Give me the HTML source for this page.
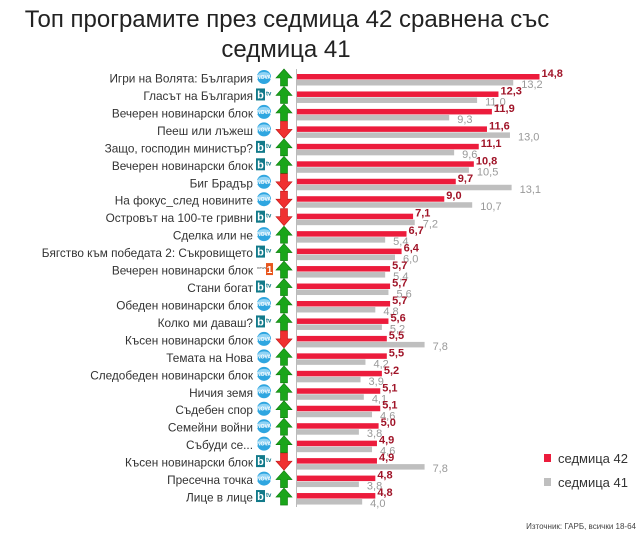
<!DOCTYPE html>
<html><head><meta charset="utf-8">
<style>
body{margin:0;background:#fff;width:638px;height:539px;overflow:hidden;font-family:"Liberation Sans",sans-serif}
svg text{font-family:"Liberation Sans",sans-serif}
</style></head>
<body>
<svg id="chart" width="638" height="539" viewBox="0 0 638 539" xmlns="http://www.w3.org/2000/svg">
<text x="287" y="27" font-size="24" fill="#222" text-anchor="middle">Топ програмите през седмица 42 сравнена със</text>
<text x="286" y="57" font-size="24" fill="#222" text-anchor="middle">седмица 41</text>
<line x1="296.5" y1="69" x2="296.5" y2="507" stroke="#bbb" stroke-width="1"/>
<g id="rows"></g>
<g>
<rect x="544" y="454" width="7" height="8" fill="#ec1c3c"/>
<text x="558" y="463" font-size="13" fill="#333">седмица 42</text>
<rect x="544" y="478" width="7" height="8" fill="#bfbfbf"/>
<text x="558" y="487" font-size="13" fill="#333">седмица 41</text>
</g>
<text x="636" y="529" font-size="8" fill="#444" text-anchor="end">Източник: ГАРБ, всички 18-64</text>
</svg>
<script>
const programs=["Игри на Волята: България","Гласът на България","Вечерен новинарски блок","Пееш или лъжеш","Защо, господин министър?","Вечерен новинарски блок","Биг Брадър","На фокус_след новините","Островът на 100-те гривни","Сделка или не","Бягство към победата 2: Съкровището","Вечерен новинарски блок","Стани богат","Обеден новинарски блок","Колко ми даваш?","Късен новинарски блок","Темата на Нова","Следобеден новинарски блок","Ничия земя","Съдебен спор","Семейни войни","Събуди се...","Късен новинарски блок","Пресечна точка","Лице в лице"];
const channels=["nova","btv","nova","nova","btv","btv","nova","nova","btv","nova","btv","news","btv","nova","btv","nova","nova","nova","nova","nova","nova","nova","btv","nova","btv"];
const week42=[14.8,12.3,11.9,11.6,11.1,10.8,9.7,9.0,7.1,6.7,6.4,5.7,5.7,5.7,5.6,5.5,5.5,5.2,5.1,5.1,5.0,4.9,4.9,4.8,4.8];
const week41=[13.2,11.0,9.3,13.0,9.6,10.5,13.1,10.7,7.2,5.4,6.0,5.4,5.6,4.8,5.2,7.8,4.2,3.9,4.1,4.6,3.8,4.6,7.8,3.8,4.0];

const NS="http://www.w3.org/2000/svg";
const x0=296.5, pxPerUnit=16.42;
function xScale(v){return x0+v*pxPerUnit;}
function yRow(i){return 78+i*17.46;}
function fmt(v){return v.toFixed(1).replace('.',',');}
function mk(tag,attrs,parent){const e=document.createElementNS(NS,tag);for(const k in attrs)e.setAttribute(k,attrs[k]);parent.appendChild(e);return e;}
const g=document.getElementById('rows');
programs.forEach((name,i)=>{
  const cy=yRow(i);
  const t=mk('text',{x:253,y:cy+4.5,'font-size':11.8,fill:'#333','text-anchor':'end'},g);
  t.textContent=name;
  
  
  const ch=channels[i];
  const ic=mk('g',{},g);
  
  
  if(ch==='nova'){
    mk('circle',{cx:264,cy:cy-1,r:7,fill:'#2fa6e0'},ic);
    mk('ellipse',{cx:264,cy:cy-3,rx:6,ry:3,fill:'#8fd3f5'},ic);
    const n=mk('text',{x:264,y:cy+1,'font-size':5,'font-weight':'bold',fill:'#fff','text-anchor':'middle'},ic);n.textContent='NOVA';
  }else if(ch==='btv'){
    mk('rect',{x:256,y:cy-7,width:9,height:12,fill:'#127a8a'},ic);
    const b=mk('text',{x:260.5,y:cy+3,'font-size':11,'font-weight':'bold',fill:'#fff','text-anchor':'middle'},ic);b.textContent='b';
    const tv=mk('text',{x:266,y:cy,'font-size':6,'font-weight':'bold',fill:'#127a8a'},ic);tv.textContent='tv';
  }else{
    const n1=mk('text',{x:257,y:cy-1,'font-size':4,fill:'#555'},ic);n1.textContent='news';
    mk('rect',{x:266,y:cy-7,width:7,height:12,fill:'#e8561e'},ic);
    const o=mk('text',{x:269.5,y:cy+3,'font-size':10,'font-weight':'bold',fill:'#fff','text-anchor':'middle'},ic);o.textContent='1';
  }
  const up=week42[i]>=week41[i];
  const ar=mk('polygon',{fill:up?'#1aa51a':'#f03030',stroke:up?'#0b7a0b':'#c01010','stroke-width':0.6,
    points:up?`284,${cy-9} 292,${cy} 287.5,${cy} 287.5,${cy+8} 280.5,${cy+8} 280.5,${cy} 276,${cy}`
             :`284,${cy+8} 292,${cy-1} 287.5,${cy-1} 287.5,${cy-9} 280.5,${cy-9} 280.5,${cy-1} 276,${cy-1}`},g);
  
  
  const r=mk('rect',{x:x0+0.5,y:cy-4,width:xScale(week42[i])-x0-0.5,height:5.5,fill:'#ec1c3c'},g);
  
  
  const gr=mk('rect',{x:x0+0.5,y:cy+2,width:xScale(week41[i])-x0-0.5,height:5.5,fill:'#bfbfbf'},g);
  
  
  const lv=mk('text',{x:xScale(week42[i])+2,y:cy-1,'font-size':11,'font-weight':'bold',fill:'#a01428'},g);
  lv.textContent=fmt(week42[i]);
  
  
  const gv=mk('text',{x:xScale(week41[i])+8,y:cy+10,'font-size':11,fill:'#999'},g);
  gv.textContent=fmt(week41[i]);
  
  
});
</script>
</body></html>
